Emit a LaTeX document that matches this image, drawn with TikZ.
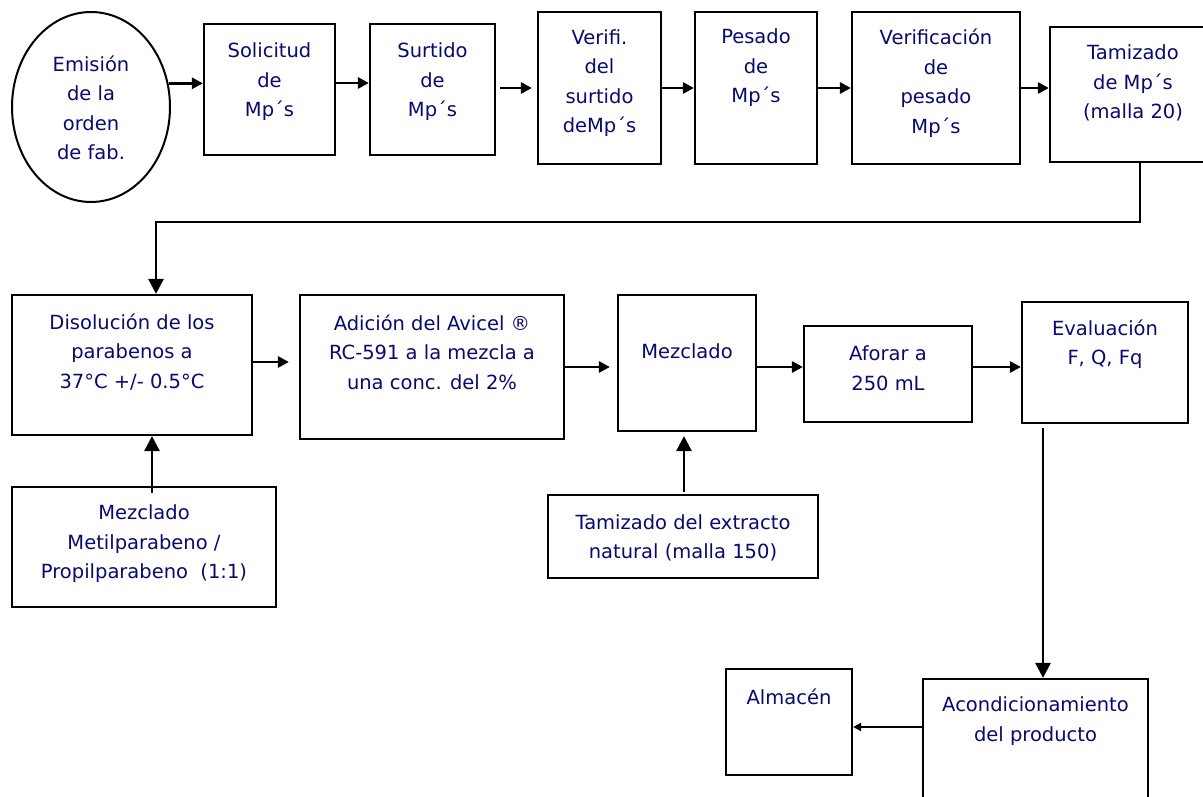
\documentclass[tikz,border=0pt]{standalone}
\usepackage{fontspec}
\setmainfont{DejaVu Sans}
\usetikzlibrary{arrows.meta,shapes.geometric}
\definecolor{ink}{RGB}{10,10,110}

\begin{document}
\begin{tikzpicture}[x=1pt,y=-1pt,
  box/.style={draw, line width=2.2pt, rectangle, inner sep=0pt},
  lbl/.style={text=ink, align=center, inner sep=0pt,
              font=\fontsize{19.5}{29.5}\selectfont},
  arr/.style={line width=2.8pt, -{Triangle[length=11pt,width=11pt]}},
  bigarr/.style={line width=2.8pt, -{Triangle[length=15pt,width=15pt]}},
  smallarr/.style={line width=2.5pt, -{Triangle[length=8pt,width=8pt]}}]

\fill[white] (0,0) rectangle (1203,797);
\useasboundingbox (0,0) rectangle (1203,797);

% ---- first row: order to sieving of raw materials
\node[draw, ellipse, line width=2pt, minimum width=158pt, minimum height=190pt, inner sep=0pt] (emision) at (91,107) {};
\node[lbl] (emision-t) at (91,108) {Emisión\\de la\\orden\\de fab.};

\node[box, minimum width=131pt, minimum height=131pt] (solicitud) at (269.5,89.5) {};
\node[lbl] (solicitud-t) at (269.5,82) {Solicitud\\de\\Mp´s};

\node[box, minimum width=125pt, minimum height=131pt] (surtido) at (432.5,89.5) {};
\node[lbl] (surtido-t) at (432.5,82) {Surtido\\de\\Mp´s};

\node[box, minimum width=123pt, minimum height=152pt] (verifi) at (599.5,88) {};
\node[lbl] (verifi-t) at (599.5,83) {Verifi.\\del\\surtido\\deMp´s};

\node[box, minimum width=122pt, minimum height=152pt] (pesado) at (756,88) {};
\node[lbl] (pesado-t) at (756,68) {Pesado\\de\\Mp´s};

\node[box, minimum width=168pt, minimum height=152pt] (verifpes) at (936,88) {};
\node[lbl] (verifpes-t) at (936,83) {Verificación\\de\\pesado\\Mp´s};

\node[box, minimum width=166pt, minimum height=135pt] (tamizmp) at (1133,94.5) {};
\node[lbl] (tamizmp-t) at (1133,83) {Tamizado\\de Mp´s\\(malla 20)};

% ---- second row: preparation
\node[box, minimum width=240pt, minimum height=140pt] (disol) at (132,365) {};
\node[lbl] (disol-t) at (132,352) {Disolución de los\\parabenos a\\37°C +/- 0.5°C};

\node[box, minimum width=264pt, minimum height=144pt] (adicion) at (432,367) {};
\node[lbl] (adicion-t) at (432,352) {Adición del Avicel ®\\RC-591 a la mezcla a\\una conc. del 2\%};

\node[box, minimum width=138pt, minimum height=136pt] (mezclado) at (687,363) {};
\node[lbl] (mezclado-t) at (687,351) {Mezclado};

\node[box, minimum width=168pt, minimum height=96pt] (aforar) at (888,374) {};
\node[lbl] (aforar-t) at (888,368) {Aforar a\\250 mL};

\node[box, minimum width=166pt, minimum height=121pt] (evaluacion) at (1105,362.5) {};
\node[lbl] (evaluacion-t) at (1105,344) {Evaluación\\F, Q, Fq};

% ---- feeds into the second row
\node[box, minimum width=264pt, minimum height=120pt] (mezmetil) at (144,547) {};
\node[lbl] (mezmetil-t) at (144,544) {Mezclado\\Metilparabeno /\\Propilparabeno\ \ (1:1)};

\node[box, minimum width=270pt, minimum height=83pt] (tamext) at (683,536.5) {};
\node[lbl] (tamext-t) at (683,538) {Tamizado del extracto\\natural (malla 150)};

% ---- last row: packaging and storage
\node[box, minimum width=126pt, minimum height=106pt] (almacen) at (789,722) {};
\node[lbl] (almacen-t) at (789,697) {Almacén};

\node[box, minimum width=225pt, minimum height=151pt] (acond) at (1035.5,754.5) {};
\node[lbl] (acond-t) at (1035.5,721) {Acondicionamiento\\del producto};

% ---- connectors
\draw[arr] (emision.17.4) -- (emision.17.4 -| solicitud.west);
\draw[arr] (solicitud.east |- 0,83) -- (surtido.west |- 0,83);
\draw[arr] ([xshift=4pt]surtido.east |- verifi.east) -- ([xshift=-5pt]verifi.west);
\draw[arr] (verifi.east) -- (pesado.west);
\draw[arr] (pesado.east) -- (verifpes.west);
\draw[arr] (verifpes.east) -- (verifpes.east -| tamizmp.west);

\coordinate (bend) at (1140,222);
\draw[bigarr] (tamizmp.south -| bend) -- (bend) -| ([xshift=24pt]disol.north);

\draw[arr] ([yshift=3pt]disol.east) -- ([xshift=-10pt,yshift=3pt]adicion.west |- disol.east);
\draw[arr] (adicion.east) -- ([xshift=-7pt]mezclado.west |- adicion.east);
\draw[arr] (mezclado.east |- adicion.east) -- (aforar.west |- adicion.east);
\draw[arr] (aforar.east |- adicion.east) -- (evaluacion.west |- adicion.east);

\draw[bigarr] ([xshift=8pt,yshift=-7pt]mezmetil.north) -- ([xshift=8pt]mezmetil.north |- disol.south);
\draw[bigarr] ([xshift=1pt,yshift=2pt]tamext.north) -- ([xshift=1pt,yshift=-4pt]tamext.north |- mezclado.south);

\draw[bigarr] ([xshift=-62pt,yshift=-4pt]evaluacion.south) -- ([xshift=-62pt]evaluacion.south |- acond.north);
\draw[smallarr] (acond.west |- 0,727) -- (almacen.east |- 0,727);

\end{tikzpicture}
\end{document}
